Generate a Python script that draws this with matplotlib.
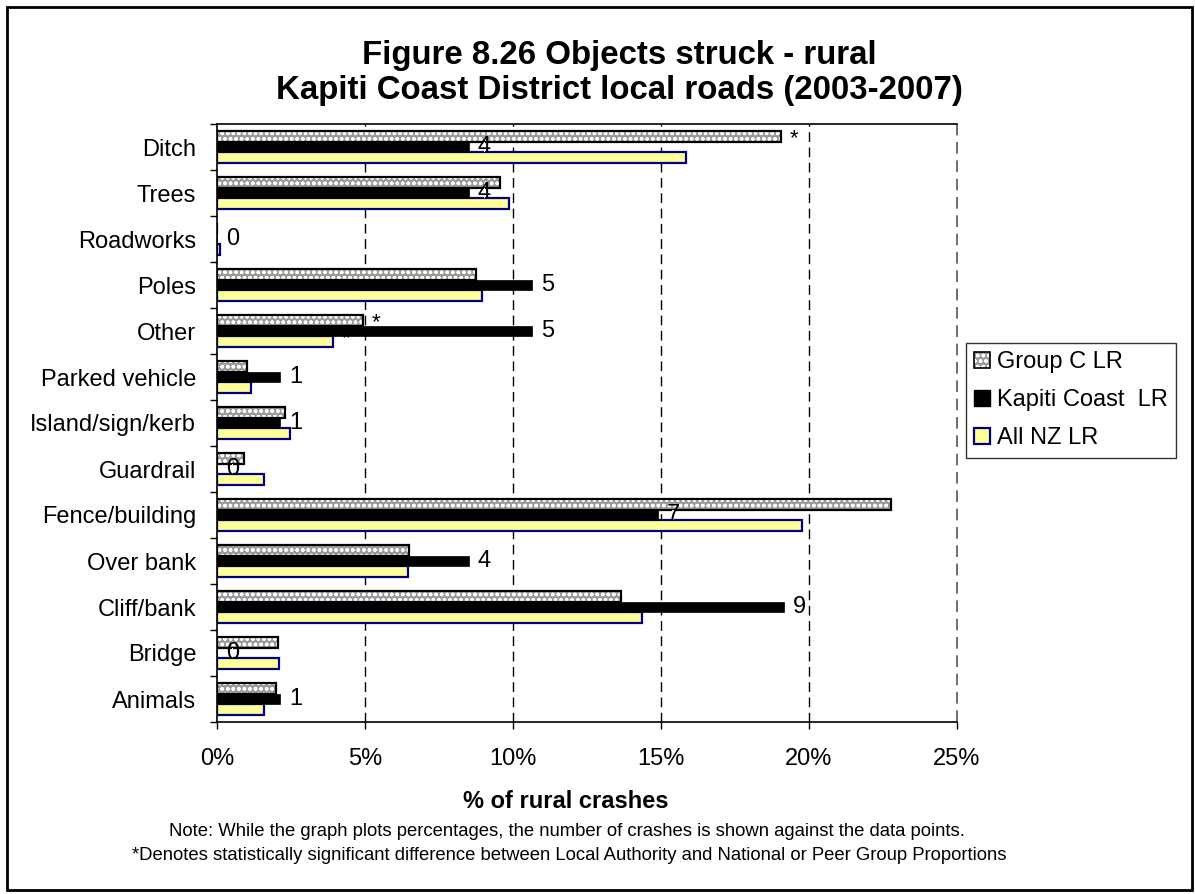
import numpy as np
import matplotlib
matplotlib.use("Agg")
import matplotlib.pyplot as plt
from matplotlib.patches import Rectangle, Patch
from matplotlib.legend_handler import HandlerTuple

plt.rcParams['font.family'] = ['Liberation Sans', 'DejaVu Sans']
plt.rcParams['hatch.linewidth'] = 1.0

# Data (% of rural crashes)
categories = ['Ditch', 'Trees', 'Roadworks', 'Poles', 'Other', 'Parked vehicle',
              'Island/sign/kerb', 'Guardrail', 'Fence/building', 'Over bank',
              'Cliff/bank', 'Bridge', 'Animals']
group_c = [19.05, 9.55, 0.0, 8.75, 4.93, 1.0, 2.3, 0.92, 22.77, 6.5, 13.65, 2.06, 2.0]
kapiti = [8.51, 8.51, 0.0, 10.64, 10.64, 2.13, 2.13, 0.0, 14.89, 8.51, 19.15, 0.0, 2.13]
all_nz = [15.84, 9.86, 0.1, 8.95, 3.92, 1.14, 2.47, 1.6, 19.77, 6.45, 14.36, 2.1, 1.6]
kapiti_counts = [4, 4, 0, 5, 5, 1, 1, 0, 7, 4, 9, 0, 1]
# significance markers
stars_group_c = ['Ditch', 'Other']
stars_all_nz = ['Other']

xticks = [0, 5, 10, 15, 20, 25]

fig = plt.figure(figsize=(11.95, 8.94), dpi=100)
ax = fig.add_axes([217 / 1195, 1 - 722 / 894, (957 - 217) / 1195, (722 - 124) / 894])

y = np.arange(len(categories))
h = 0.23

# Group C: dotted grey fill with black outline
ax.barh(y - h, group_c, height=h, color='#9a9a9a', edgecolor='white', hatch='ooo',
        linewidth=0, zorder=2)
ax.barh(y - h, group_c, height=h, fill=False, edgecolor='black', linewidth=1.6, zorder=2)
ax.barh(y + h, all_nz, height=h, color='#ffff99', edgecolor='#000080', linewidth=1.6, zorder=2)

# star for All NZ (mostly hidden behind the Kapiti bar)
for c in stars_all_nz:
    i = categories.index(c)
    ax.annotate('*', (all_nz[i], y[i] + h), xytext=(9, 3), textcoords='offset pixels',
                fontsize=16, va='center', ha='left', zorder=2.5)

ax.barh(y, kapiti, height=h, color='black', edgecolor='black', linewidth=0.5, zorder=3)

# count labels on the Kapiti bars
for i, n in enumerate(kapiti_counts):
    ax.annotate(str(n), (kapiti[i], y[i]), xytext=(9, 0), textcoords='offset pixels',
                fontsize=17, va='center', ha='left', zorder=4,
                bbox=dict(facecolor='white', edgecolor='none', pad=-4))

for c in stars_group_c:
    i = categories.index(c)
    ax.annotate('*', (group_c[i], y[i] - h), xytext=(9, -2), textcoords='offset pixels',
                fontsize=16, va='center', ha='left', zorder=4)

ax.set_ylim(len(categories) - 0.5, -0.5)
ax.set_xlim(0, 25)

ax.set_yticks(y)
ax.set_yticklabels(categories, fontsize=17)
ax.set_yticks(np.arange(len(categories) + 1) - 0.5, minor=True)
ax.tick_params(axis='y', which='major', length=0, pad=15)
ax.tick_params(axis='y', which='minor', length=5, width=1, direction='out')

ax.set_xticks(xticks)
ax.set_xticklabels([f'{t}%' for t in xticks], fontsize=17)
ax.tick_params(axis='x', length=5, width=1, direction='out', pad=14)

for t in xticks[1:-1]:
    ax.axvline(t, color='black', linestyle=(0, (7, 4)), linewidth=1, zorder=1)
ax.axvline(xticks[-1], color='#555555', linestyle=(0, (7, 4)), linewidth=1.2,
           zorder=1, clip_on=False)

ax.spines['right'].set_visible(False)
for s in ['left', 'top', 'bottom']:
    ax.spines[s].set_linewidth(1.2)

# legend
h_c = (Patch(facecolor='#9a9a9a', edgecolor='white', hatch='ooo', linewidth=0),
       Patch(fill=False, edgecolor='black', linewidth=1.2))
h_k = Patch(facecolor='black', edgecolor='black')
h_n = Patch(facecolor='#ffff99', edgecolor='#000080', linewidth=1.6)
leg = fig.legend([h_c, h_k, h_n], ['Group C LR', 'Kapiti Coast  LR', 'All NZ LR'],
                 handler_map={tuple: HandlerTuple(ndivide=1, pad=0)},
                 loc='upper left', bbox_to_anchor=(966 / 1195, 1 - 343 / 894),
                 fontsize=17, frameon=True, fancybox=False, shadow=False,
                 handlelength=0.65, handleheight=0.65, handletextpad=0.3,
                 borderpad=0.35, labelspacing=0.68, borderaxespad=0)
leg.get_frame().set_edgecolor('black')
leg.get_frame().set_linewidth(1)

# titles and notes
fig.text(619 / 1195, 1 - 64 / 894, 'Figure 8.26 Objects struck - rural', fontsize=23.8,
         fontweight='bold', ha='center', va='baseline')
fig.text(619 / 1195, 1 - 99 / 894, 'Kapiti Coast District local roads (2003-2007)',
         fontsize=23.8, fontweight='bold', ha='center', va='baseline')
fig.text(566 / 1195, 1 - 801 / 894, '% of rural crashes', fontsize=17,
         fontweight='bold', ha='center', va='center')
fig.text(567 / 1195, 1 - 831 / 894,
         'Note: While the graph plots percentages, the number of crashes is shown against the data points.',
         fontsize=13.3, ha='center', va='center')
fig.text(569 / 1195, 1 - 855 / 894,
         '*Denotes statistically significant difference between Local Authority and National or Peer Group Proportions',
         fontsize=13.3, ha='center', va='center')

fig.patches.append(Rectangle((7 / 1195, 1 - 890 / 894), 1185 / 1195, 883 / 894,
                             transform=fig.transFigure, fill=False,
                             edgecolor='black', linewidth=2))

fig.savefig('out.png', dpi=100)
